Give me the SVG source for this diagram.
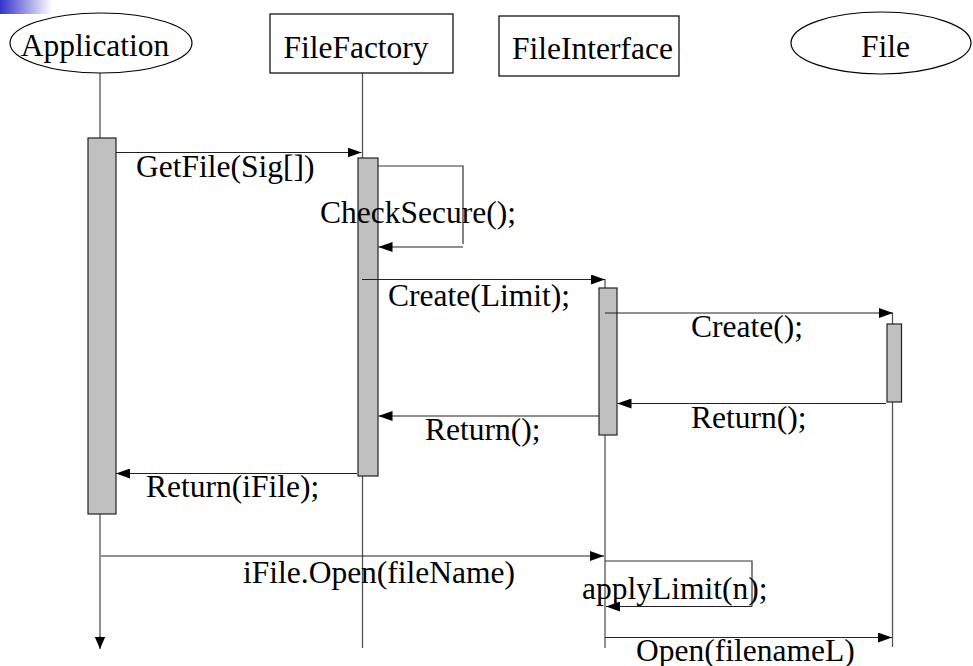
<svg xmlns="http://www.w3.org/2000/svg" width="973" height="666" viewBox="0 0 973 666">
<defs>
<linearGradient id="corner" x1="0" y1="0" x2="1" y2="0">
<stop offset="0" stop-color="#3333cc"/>
<stop offset="1" stop-color="#ffffff"/>
</linearGradient>
<marker id="ah" viewBox="0 0 14 10" refX="14" refY="5" markerWidth="14" markerHeight="10" markerUnits="userSpaceOnUse" orient="auto">
<path d="M0,0 L14,5 L0,10 Z" fill="#000"/>
</marker>
<marker id="ahd" viewBox="0 0 14 12" refX="14" refY="6" markerWidth="12" markerHeight="12" markerUnits="userSpaceOnUse" orient="auto">
<path d="M0,0 L14,6 L0,12 Z" fill="#000"/>
</marker>
</defs>
<style>
.head{fill:#fff;stroke:#000;stroke-width:1.2}
.life{stroke:#555;stroke-width:1.3;fill:none}
.act{fill:#c0c0c0;stroke:#222;stroke-width:1.2}
.msg{stroke:#222;stroke-width:1.2;fill:none;marker-end:url(#ah)}
.loop{stroke:#333;stroke-width:1.2;fill:none}
</style>
<rect x="0" y="0" width="52" height="14" fill="url(#corner)"/>

<g id="lifelines">
<line class="life" x1="100" y1="73" x2="100" y2="640"/>
<line class="life" x1="362.5" y1="73" x2="362.5" y2="648"/>
<line class="life" x1="605" y1="279" x2="605" y2="648"/>
<line class="life" x1="892.5" y1="313" x2="892.5" y2="647"/>
</g>

<g font-family="'Liberation Serif', 'Times New Roman', Times, serif" font-size="31.5" fill="#000">
<g id="application">
<ellipse class="head" cx="101" cy="43" rx="91" ry="30"/>
<text x="95" y="56" text-anchor="middle">Application</text>
<rect class="act" x="88" y="138" width="28" height="376"/>
</g>
<g id="filefactory">
<rect class="head" x="270" y="14" width="183" height="59"/>
<text x="356" y="58" text-anchor="middle">FileFactory</text>
<rect class="act" x="358" y="158" width="20" height="318"/>
</g>
<g id="fileinterface">
<rect class="head" x="499" y="16" width="180" height="60"/>
<text x="592.5" y="59" text-anchor="middle">FileInterface</text>
<rect class="act" x="599" y="288" width="18" height="147"/>
</g>
<g id="file">
<ellipse class="head" cx="881" cy="43" rx="90" ry="31"/>
<text x="885.5" y="57" text-anchor="middle">File</text>
<rect class="act" x="887" y="324" width="14.5" height="78"/>
</g>

<g id="connectors">
<line class="msg" x1="116" y1="152.5" x2="361.5" y2="152.5"/>
<polyline class="loop" points="378,166 463,166 463,244"/>
<line class="msg" x1="463" y1="247" x2="378.5" y2="247"/>
<line class="msg" x1="362" y1="279.5" x2="605" y2="279.5"/>
<line class="msg" x1="605" y1="313" x2="893" y2="313"/>
<line class="msg" x1="886" y1="403.5" x2="617.5" y2="403.5"/>
<line class="msg" x1="599" y1="416" x2="378.5" y2="416"/>
<line class="msg" x1="357" y1="473.5" x2="116" y2="473.5"/>
<line class="msg" x1="101" y1="556" x2="604" y2="556"/>
<polyline class="loop" points="605,561 752,561 752,606.5"/>
<line class="msg" x1="752" y1="606.5" x2="606" y2="606.5"/>
<line class="msg" x1="605" y1="637.5" x2="892" y2="637.5"/>
<line style="stroke:#555;stroke-width:1.3;marker-end:url(#ahd)" x1="100" y1="636" x2="100" y2="649"/>
</g>

<g id="labels">
<text x="136" y="177">GetFile(Sig[])</text>
<text x="320" y="223">CheckSecure();</text>
<text x="388" y="306">Create(Limit);</text>
<text x="691" y="337">Create();</text>
<text x="691" y="428">Return();</text>
<text x="425" y="440">Return();</text>
<text x="146" y="497">Return(iFile);</text>
<text x="243" y="583">iFile.Open(fileName)</text>
<text x="582" y="599">applyLimit(n);</text>
<text x="636" y="661">Open(filenameL)</text>
</g>
</g>
</svg>
